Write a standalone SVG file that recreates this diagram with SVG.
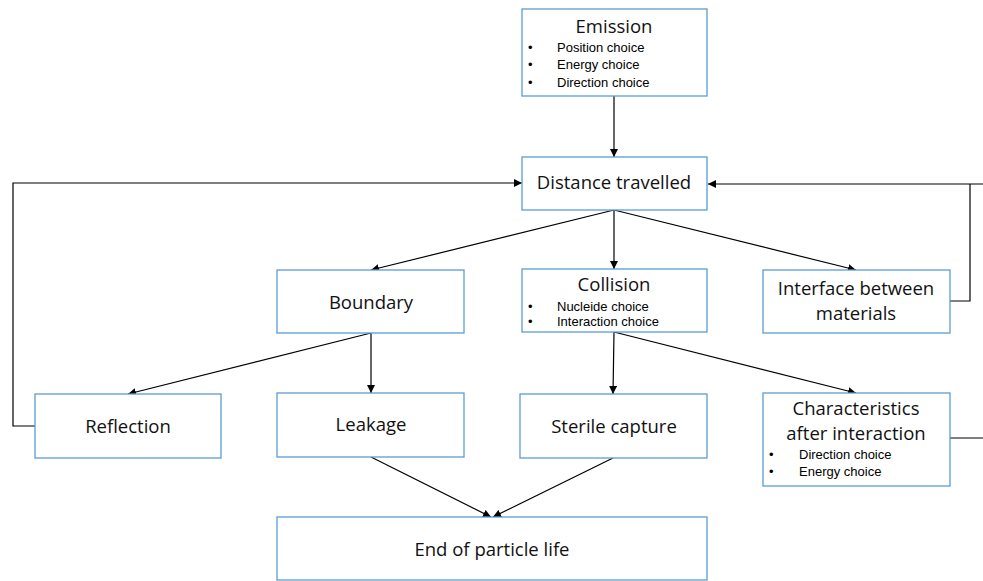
<svg xmlns="http://www.w3.org/2000/svg" width="983" height="581" viewBox="0 0 983 581">
  <style>
    .box { fill: #ffffff; stroke: #5b9bd5; stroke-width: 1.3; }
    .t { font-family: "Open Sans", "Liberation Sans", sans-serif; fill: #111; }
    .h { font-size: 18.5px; text-anchor: middle; }
    .s { font-family: "Liberation Sans", Arial, sans-serif; font-size: 13px; }
    .b { font-family: "Liberation Sans", Arial, sans-serif; font-size: 13px; }
    .link { fill: none; stroke: #000; stroke-width: 1.2; }
  </style>
  <defs>
    <marker id="arrow" viewBox="0 0 10 10" refX="10" refY="5" markerWidth="8" markerHeight="8" markerUnits="userSpaceOnUse" orient="auto">
      <path d="M0,0 L10,5 L0,10 z" fill="#000"/>
    </marker>
  </defs>

  <g id="connectors">
    <line class="link" x1="614" y1="96" x2="614" y2="157" marker-end="url(#arrow)"/>
    <line class="link" x1="614" y1="210" x2="371" y2="270" marker-end="url(#arrow)"/>
    <line class="link" x1="614" y1="210" x2="614" y2="269" marker-end="url(#arrow)"/>
    <line class="link" x1="614" y1="210" x2="856" y2="270" marker-end="url(#arrow)"/>
    <line class="link" x1="371" y1="333" x2="128" y2="394" marker-end="url(#arrow)"/>
    <line class="link" x1="371" y1="333" x2="371" y2="393" marker-end="url(#arrow)"/>
    <line class="link" x1="614" y1="332" x2="613" y2="394" marker-end="url(#arrow)"/>
    <line class="link" x1="614" y1="332" x2="856" y2="393" marker-end="url(#arrow)"/>
    <line class="link" x1="371" y1="457" x2="491" y2="517" marker-end="url(#arrow)"/>
    <line class="link" x1="613" y1="458" x2="493" y2="517" marker-end="url(#arrow)"/>
    <!-- reflection loops back to distance -->
    <polyline class="link" points="35,426 13,426 13,183 522,183" marker-end="url(#arrow)"/>
    <!-- interface and post-interaction loops back to distance -->
    <polyline class="link" points="950,301 970,301 970,184"/>
    <line class="link" x1="983" y1="184" x2="708" y2="184" marker-end="url(#arrow)"/>
    <line class="link" x1="950" y1="438" x2="983" y2="438"/>
  </g>

  <g id="emission">
    <rect class="box" x="522" y="9" width="185" height="87"/>
    <text class="t h" x="614" y="33">Emission</text>
    <text class="b" x="528" y="51.5">•</text>
    <text class="s" x="557" y="51.5">Position choice</text>
    <text class="b" x="528" y="69">•</text>
    <text class="s" x="557" y="69">Energy choice</text>
    <text class="b" x="528" y="86.5">•</text>
    <text class="s" x="557" y="86.5">Direction choice</text>
  </g>

  <g id="distance">
    <rect class="box" x="522" y="157" width="185" height="53"/>
    <text class="t h" x="614" y="189">Distance travelled</text>
  </g>

  <g id="boundary">
    <rect class="box" x="277" y="270" width="187" height="63"/>
    <text class="t h" x="371" y="309">Boundary</text>
  </g>

  <g id="collision">
    <rect class="box" x="522" y="269" width="185" height="63"/>
    <text class="t h" x="614" y="291">Collision</text>
    <text class="b" x="528" y="310.5">•</text>
    <text class="s" x="557" y="310.5">Nucleide choice</text>
    <text class="b" x="528" y="325.5">•</text>
    <text class="s" x="557" y="325.5">Interaction choice</text>
  </g>

  <g id="interface">
    <rect class="box" x="763" y="270" width="187" height="63"/>
    <text class="t h" x="856" y="295">Interface between</text>
    <text class="t h" x="856" y="320">materials</text>
  </g>

  <g id="reflection">
    <rect class="box" x="35" y="394" width="186" height="64"/>
    <text class="t h" x="128" y="433">Reflection</text>
  </g>

  <g id="leakage">
    <rect class="box" x="277" y="393" width="187" height="64"/>
    <text class="t h" x="371" y="431">Leakage</text>
  </g>

  <g id="sterile">
    <rect class="box" x="520" y="394" width="187" height="64"/>
    <text class="t h" x="614" y="433">Sterile capture</text>
  </g>

  <g id="characteristics">
    <rect class="box" x="763" y="393" width="187" height="93"/>
    <text class="t h" x="856" y="415">Characteristics</text>
    <text class="t h" x="856" y="440">after interaction</text>
    <text class="b" x="769" y="459">•</text>
    <text class="s" x="799" y="459">Direction choice</text>
    <text class="b" x="769" y="476">•</text>
    <text class="s" x="799" y="476">Energy choice</text>
  </g>

  <g id="end">
    <rect class="box" x="277" y="517" width="430" height="63"/>
    <text class="t h" x="492" y="556">End of particle life</text>
  </g>
</svg>
